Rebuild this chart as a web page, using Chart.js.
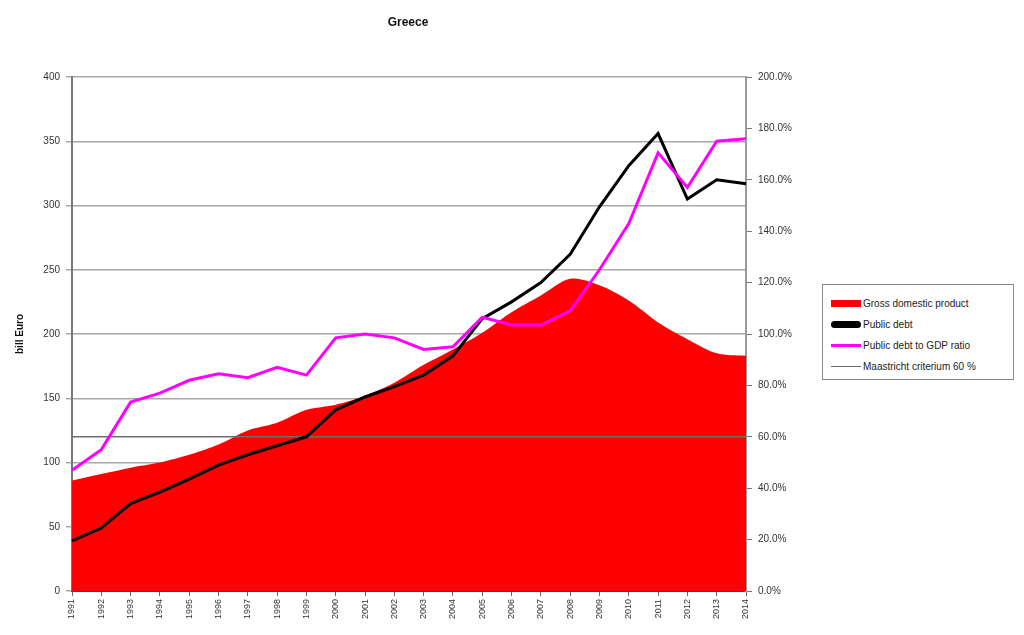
<!DOCTYPE html>
<html>
<head>
<meta charset="utf-8">
<script src="https://cdn.jsdelivr.net/npm/chart.js@4.4.1/dist/chart.umd.min.js"></script>
<style>
  body { margin: 0; background: #fff; font-family: "Liberation Sans", Arial, sans-serif; }
  #wrap { position: relative; width: 1024px; height: 635px; }
  #legend {
    position: absolute; left: 822px; top: 284px; width: 192px; height: 96px;
    border: 1px solid #8a8a8a; background: #fff; box-sizing: border-box;
    padding: 8px 0 0 8px; font-size: 10px; color: #222;
  }
  .item { display: flex; align-items: center; height: 21px; }
  .swatch { width: 30px; margin-right: 2px; }
</style>
</head>
<body>
<div id="wrap">
  <canvas id="greeceChart"></canvas>
  <div id="legend"></div>
</div>
<script>
// data, bill Euro and percent of GDP
var years = ["1991","1992","1993","1994","1995","1996","1997","1998","1999","2000","2001","2002",
             "2003","2004","2005","2006","2007","2008","2009","2010","2011","2012","2013","2014"];
var gdp = [86, 91, 96, 100, 106, 114, 125, 131, 141, 145, 152, 162,
           176, 188, 201, 217, 230, 243, 238, 226, 209, 196, 185, 183];
var debt = [39, 49, 68, 77, 87, 98, 106, 113, 120, 141, 151, 159,
            168, 183, 212, 225, 240, 262, 299, 331, 356, 305, 320, 317];
var debtRatio = [47, 55, 73.5, 77, 82, 84.5, 83, 87, 84, 98.5, 100, 98.5,
                 94, 95, 106.5, 103.5, 103.5, 109, 125, 143, 170.5, 157, 175, 176];
var maastricht = years.map(function () { return 60; });

var seriesNames = ["Gross domestic product", "Public debt", "Public debt to GDP ratio", "Maastricht criterium 60 %"];

var chart = new Chart("greeceChart", {
  type: "line",
  data: {
    labels: years,
    datasets: [
      {
        label: seriesNames[0],
        data: gdp,
        yAxisID: "y",
        backgroundColor: "#ff0000",
        borderColor: "#ff0000",
        borderWidth: 0,
        fill: "origin",
        pointRadius: 0,
        tension: 0.3,
        order: 4
      },
      {
        label: seriesNames[1],
        data: debt,
        yAxisID: "y",
        borderColor: "#000000",
        borderWidth: 3,
        pointRadius: 0,
        tension: 0,
        order: 2
      },
      {
        label: seriesNames[2],
        data: debtRatio,
        yAxisID: "y1",
        borderColor: "#ff00ff",
        borderWidth: 3,
        pointRadius: 0,
        tension: 0,
        order: 1
      },
      {
        label: seriesNames[3],
        data: maastricht,
        yAxisID: "y1",
        borderColor: "#6e6e6e",
        borderWidth: 1.5,
        pointRadius: 0,
        order: 3
      }
    ]
  },
  options: {
    responsive: true,
    maintainAspectRatio: false,
    animation: false,
    layout: { padding: { left: 0, right: 208, top: 0, bottom: 0 } },
    plugins: {
      legend: { display: false },
      tooltip: { enabled: false },
      title: {
        display: true,
        text: "Greece",
        color: "#111",
        font: { family: "Liberation Sans", size: 12, weight: "bold" },
        padding: { top: 15, bottom: 47.6 }
      }
    },
    scales: {
      x: {
        type: "category",
        offset: false,
        grid: { drawOnChartArea: false, drawTicks: true, tickLength: 5, color: "#666" },
        border: { color: "#444", width: 2 },
        ticks: {
          autoSkip: false, maxRotation: 90, minRotation: 90, color: "#333",
          font: { family: "Liberation Sans", size: 9 }
        },
        afterFit: function (s) { s.height = 44; }
      },
      y: {
        position: "left",
        min: 0, max: 400,
        ticks: { stepSize: 50, color: "#333", font: { family: "Liberation Sans", size: 10 }, padding: 6 },
        grid: { color: "#a8a8a8", lineWidth: 1.5, tickLength: 6 },
        border: { color: "#777", width: 2 },
        title: {
          display: true, text: "bill Euro", color: "#111",
          padding: { top: 14, bottom: 0 },
          font: { family: "Liberation Sans", size: 10, weight: "bold" }
        },
        afterFit: function (s) { s.width = 72; }
      },
      y1: {
        position: "right",
        min: 0, max: 200,
        ticks: {
          stepSize: 20, color: "#333", padding: 6,
          font: { family: "Liberation Sans", size: 10 },
          callback: function (v) { return v.toFixed(1) + "%"; }
        },
        grid: { drawOnChartArea: false, tickLength: 6, color: "#777" },
        border: { color: "#999", width: 2 },
        afterFit: function (s) { s.width = 70; }
      }
    }
  }
});

// legend box built from the datasets
var legendEl = document.getElementById("legend");
chart.data.datasets.forEach(function (ds, i) {
  var row = document.createElement("div");
  row.className = "item";
  var sw = document.createElement("div");
  sw.className = "swatch";
  var h = [7, 7, 3, 1][i];
  sw.style.height = h + "px";
  sw.style.background = ds.borderColor;
  if (i === 1) sw.style.borderRadius = "4px";
  var txt = document.createElement("span");
  txt.textContent = ds.label;
  row.appendChild(sw);
  row.appendChild(txt);
  legendEl.appendChild(row);
});
</script>
</body>
</html>
